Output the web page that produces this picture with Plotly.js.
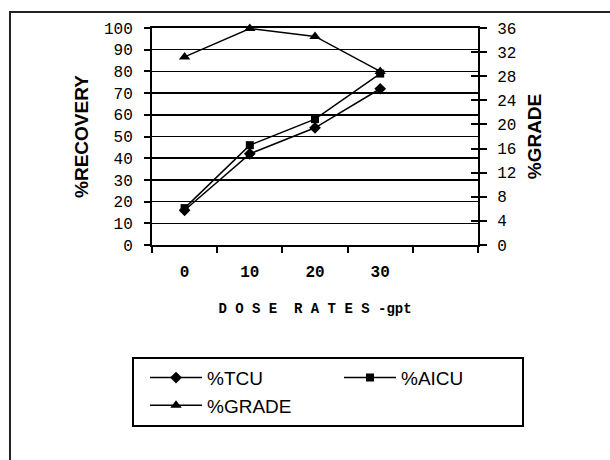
<!DOCTYPE html>
<html>
<head>
<meta charset="utf-8">
<script src="https://cdn.plot.ly/plotly-3.0.1.min.js"></script>
<style>
html,body{margin:0;padding:0;background:#fff;}
#chart{width:610px;height:460px;}
</style>
</head>
<body>
<div id="chart"></div>
<script>
// Data
var categories = ['0', '10', '20', '30'];
var axisCategories = ['0', '10', '20', '30', ' '];
var tcu = [16, 42, 54, 72];
var aicu = [17, 46, 58, 79];
var grade = [31.2, 35.9, 34.6, 28.8];
var seriesNames = ['%TCU', '%AICU', '%GRADE'];
var leftTicks = [0, 10, 20, 30, 40, 50, 60, 70, 80, 90, 100];
var rightTicks = [0, 4, 8, 12, 16, 20, 24, 28, 32, 36];

var mono = 'Liberation Mono, Courier New, monospace';
var sans = 'Liberation Sans, Arial, sans-serif';

var lineStyle = {color: '#000', width: 1.5};

var traces = [
  {
    x: categories, y: tcu, name: seriesNames[0], type: 'scatter', mode: 'lines+markers',
    line: lineStyle, marker: {symbol: 'diamond', size: 9, color: '#000'},
    yaxis: 'y', cliponaxis: false
  },
  {
    x: categories, y: aicu, name: seriesNames[1], type: 'scatter', mode: 'lines+markers',
    line: lineStyle, marker: {symbol: 'square', size: 8, color: '#000'},
    yaxis: 'y', cliponaxis: false
  },
  {
    x: categories, y: grade, name: seriesNames[2], type: 'scatter', mode: 'lines+markers',
    line: lineStyle, marker: {symbol: 'triangle-up', size: 10, color: '#000'},
    yaxis: 'y2', cliponaxis: false
  }
];

var layout = {
  width: 610, height: 460,
  margin: {l: 152, r: 132, t: 28, b: 215, pad: 0},
  paper_bgcolor: '#fff', plot_bgcolor: '#fff',
  showlegend: true,
  font: {family: sans, color: '#000'},
  xaxis: {
    type: 'category',
    categoryorder: 'array',
    categoryarray: axisCategories,
    range: [-0.5, 4.5],
    tickson: 'boundaries',
    ticks: 'outside', ticklen: 6, tickwidth: 2, tickcolor: '#000',
    ticklabelstandoff: 11,
    showline: true, linewidth: 2, linecolor: '#000',
    mirror: true,
    showgrid: false, zeroline: false,
    tickfont: {family: mono, size: 16, weight: 'bold', color: '#000'},
    title: {text: 'D O S E  R A T E S -gpt', font: {family: mono, size: 14, weight: 'bold', color: '#000'}, standoff: 22},
    fixedrange: true
  },
  yaxis: {
    range: [0, 100],
    tickvals: leftTicks,
    ticks: 'outside', ticklen: 6, tickwidth: 2, tickcolor: '#000',
    ticklabelstandoff: 8,
    showline: true, linewidth: 2, linecolor: '#000',
    showgrid: true, gridcolor: '#000', gridwidth: 1.5,
    zeroline: false,
    tickfont: {family: mono, size: 16, color: '#000'},
    title: {text: '%RECOVERY', font: {family: sans, size: 19, weight: 'bold', color: '#000'}, standoff: 10},
    fixedrange: true
  },
  yaxis2: {
    overlaying: 'y', side: 'right',
    range: [0, 36],
    tickvals: rightTicks,
    ticks: 'outside', ticklen: 7, tickwidth: 2, tickcolor: '#000',
    ticklabelstandoff: 7,
    showline: true, linewidth: 2, linecolor: '#000',
    showgrid: false, zeroline: false,
    tickfont: {family: mono, size: 16, color: '#000'},
    title: {text: '%GRADE', font: {family: sans, size: 19, weight: 'bold', color: '#000'}, standoff: 12},
    fixedrange: true
  },
  yaxis3: {
    overlaying: 'y', side: 'right',
    range: [0, 36],
    tickvals: rightTicks,
    ticks: 'inside', ticklen: 7, tickwidth: 2, tickcolor: '#000',
    showticklabels: false,
    showline: false, showgrid: false, zeroline: false,
    fixedrange: true
  },
  legend: {
    orientation: 'h',
    x: -0.0613, y: -0.515, xanchor: 'left', yanchor: 'top',
    bordercolor: '#000', borderwidth: 2, bgcolor: '#fff',
    entrywidth: 116, entrywidthmode: 'pixels',
    itemwidth: 52,
    indentation: 11,
    font: {family: sans, size: 19, color: '#000'},
    traceorder: 'normal'
  },
  shapes: [
    {type: 'rect', xref: 'paper', yref: 'paper', x0: -0.4356, x1: 1.7, y0: -1.3, y1: 1.0737,
     line: {color: '#222', width: 2}, fillcolor: 'rgba(0,0,0,0)', layer: 'below'}
  ]
};

// invisible helper trace so the inside right-hand ticks axis is drawn
traces.push({x: categories, y: grade, yaxis: 'y3', type: 'scatter', mode: 'none', showlegend: false, hoverinfo: 'skip'});

Plotly.newPlot('chart', traces, layout, {displayModeBar: false, staticPlot: true});
</script>
</body>
</html>
